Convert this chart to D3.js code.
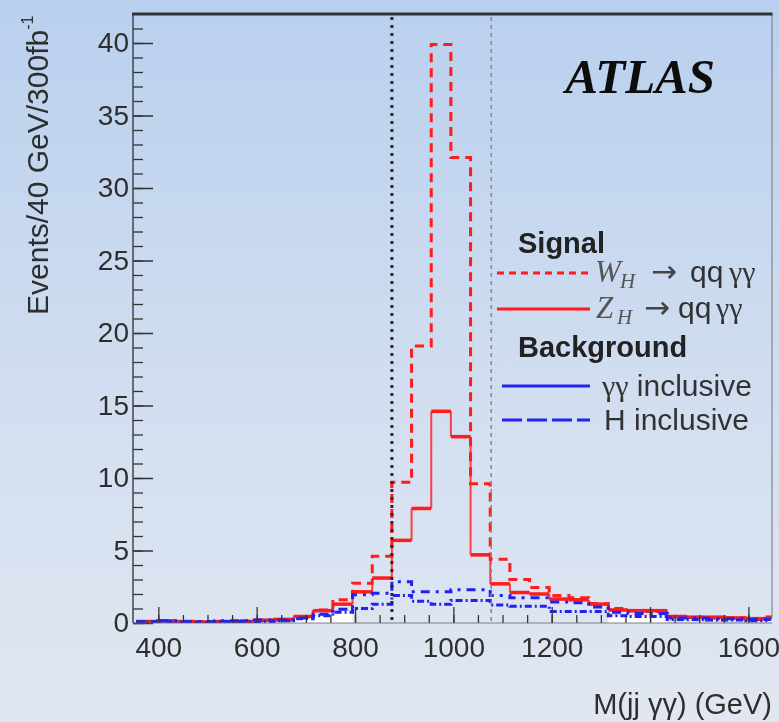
<!DOCTYPE html>
<html>
<head>
<meta charset="utf-8">
<script src="https://cdn.jsdelivr.net/npm/d3@7/dist/d3.min.js"></script>
<style>
  body { margin: 0; }
  svg { display: block; }
</style>
</head>
<body>
<svg id="chart" width="779" height="722"></svg>
<script>
// 40 GeV bins, lower edge of the first one
const binStart = 355;
const binWidth = 40;

// signal, Events / 40 GeV / 300 fb^-1
const wSignal = [0.05, 0.1, 0.1, 0.1, 0.1, 0.15, 0.15, 0.2, 0.45, 0.9, 1.6, 2.75, 4.6,
    9.7, 19.1, 39.9, 32.1, 9.6, 4.4, 3.0, 2.45, 1.9, 1.75, 1.35, 1.0, 0.85, 0.8,
    0.4, 0.4, 0.35, 0.35, 0.25, 0.35];
const zSignal = [0.1, 0.15, 0.1, 0.05, 0.1, 0.1, 0.2, 0.25, 0.45, 0.85, 1.3, 2.15, 3.1,
    5.7, 7.9, 14.6, 12.85, 4.7, 2.7, 2.1, 2.0, 1.65, 1.6, 1.3, 0.9, 0.85, 0.85,
    0.45, 0.4, 0.4, 0.35, 0.3, 0.4];

// backgrounds
const hInclusive = [0.1, 0.15, 0.1, 0.1, 0.15, 0.15, 0.2, 0.2, 0.35, 0.6, 0.95, 1.95, 2.05,
    2.85, 2.15, 2.15, 2.3, 2.3, 1.9, 1.75, 1.75, 1.45, 1.4, 1.1, 0.75, 0.65, 0.65,
    0.35, 0.35, 0.3, 0.3, 0.25, 0.3];
const aaInclusive = [0.05, 0.1, 0.05, 0.05, 0.1, 0.1, 0.1, 0.15, 0.3, 0.5, 0.75, 1.0, 1.3,
    1.9, 1.5, 1.3, 1.55, 1.55, 1.25, 1.15, 1.15, 0.8, 0.8, 0.8, 0.5, 0.45, 0.45,
    0.25, 0.25, 0.2, 0.2, 0.15, 0.25];
// white filled part under the backgrounds
const whiteFill = [0, 0, 0, 0, 0, 0, 0, 0, 0.4, 0.5, 0.8, 0, 0,
    0, 0, 0, 0, 0, 0, 0, 0, 0, 0, 0, 0.5, 0.5, 0.5,
    0, 0, 0, 0, 0, 0];

const xMajorTicks = [400, 600, 800, 1000, 1200, 1400, 1600];
const xMinorTicks = [400, 450, 500, 550, 600, 650, 700, 750, 800, 850, 900, 950, 1000, 1050,
    1100, 1150, 1200, 1250, 1300, 1350, 1400, 1450, 1500, 1550, 1600];
const yMajorTicks = [0, 5, 10, 15, 20, 25, 30, 35, 40];
const yMinorTicks = d3.range(0, 42, 1);

// mass window
const cutLow = 875;
const cutHigh = 1077;

const width = 779, height = 722;
const margin = { left: 133, top: 14, right: 7, bottom: 99 };

const svg = d3.select("#chart");

const defs = svg.append("defs");
const grad = defs.
append("linearGradient").
attr("id", "bg").
attr("x1", 0).attr("y1", 0).attr("x2", 0).attr("y2", 1);
grad.append("stop").attr("offset", "0%").attr("stop-color", "#b9d0ee");
grad.append("stop").attr("offset", "55%").attr("stop-color", "#d2def0");
grad.append("stop").attr("offset", "100%").attr("stop-color", "#e1e7f0");

defs.
append("clipPath").
attr("id", "plot-clip").
append("rect").
attr("x", margin.left).
attr("y", margin.top).
attr("width", width - margin.left - margin.right).
attr("height", height - margin.top - margin.bottom);

// the scanned original is a little soft
defs.
append("filter").
attr("id", "soft").
append("feGaussianBlur").
attr("stdDeviation", 0.45);

svg.
append("rect").
attr("width", width).
attr("height", height).
attr("fill", "url(#bg)");

const root = svg.append("g").attr("filter", "url(#soft)");

const x = d3.scaleLinear().domain([348.5, 1648]).range([margin.left, width - margin.right]);
const y = d3.scaleLinear().domain([0, 42]).range([height - margin.bottom, margin.top]);

const font = "'Liberation Sans', Arial, Helvetica, sans-serif";
const serif = "'Liberation Serif', 'Times New Roman', serif";

// bins as {lo, hi, v}
function bins(values) {
    return values.map((v, i) => {
        const lo = Math.max(binStart + i * binWidth, x.domain()[0]);
        const hi = Math.min(binStart + (i + 1) * binWidth, x.domain()[1]);
        return { lo: lo, hi: hi, v: v };
    });
}

function stepPoints(values) {
    const b = bins(values);
    const pts = b.map(d => [d.lo, d.v]);
    pts.push([b[b.length - 1].hi, b[b.length - 1].v]);
    return pts;
}

const stepLine = d3.
line().
x(d => x(d[0])).
y(d => y(d[1])).
curve(d3.curveStepAfter);

const plot = root.append("g").attr("clip-path", "url(#plot-clip)");

// white fill
plot.
append("g").
selectAll("rect").
data(bins(whiteFill).filter(d => d.v > 0)).
join("rect").
attr("x", d => x(d.lo)).
attr("width", d => x(d.hi) - x(d.lo)).
attr("y", d => y(d.v)).
attr("height", d => y(0) - y(d.v)).
attr("fill", "#ffffff");

// Z_H solid red: thick horizontals, thinner verticals
const zBins = bins(zSignal);
const zg = plot.append("g").attr("stroke", "#ff1a1a").attr("fill", "none");
zg.
selectAll("line.h").
data(zBins).
join("line").
attr("class", "h").
attr("x1", d => x(d.lo)).
attr("x2", d => x(d.hi)).
attr("y1", d => y(d.v)).
attr("y2", d => y(d.v)).
attr("stroke-width", 3.5);
zg.
selectAll("line.v").
data(zBins.slice(1).map((d, i) => ({ at: d.lo, a: zBins[i].v, b: d.v }))).
join("line").
attr("class", "v").
attr("x1", d => x(d.at)).
attr("x2", d => x(d.at)).
attr("y1", d => y(d.a)).
attr("y2", d => y(d.b)).
attr("stroke-width", 2).
attr("stroke-opacity", 0.8);

// W_H dashed red
plot.
append("path").
attr("d", stepLine(stepPoints(wSignal))).
attr("fill", "none").
attr("stroke", "#ff1a1a").
attr("stroke-width", 3).
attr("stroke-dasharray", "9,6");

// backgrounds
plot.
append("path").
attr("d", stepLine(stepPoints(hInclusive))).
attr("fill", "none").
attr("stroke", "#2222ee").
attr("stroke-width", 3).
attr("stroke-dasharray", "9,6,3,6");

plot.
append("path").
attr("d", stepLine(stepPoints(aaInclusive))).
attr("fill", "none").
attr("stroke", "#2222ee").
attr("stroke-width", 3).
attr("stroke-dasharray", "7,3,2,3");

// mass window lines
root.
append("line").
attr("x1", x(cutLow)).attr("x2", x(cutLow)).
attr("y1", y(42) + 3).attr("y2", y(0)).
attr("stroke", "#2a2a2a").
attr("stroke-width", 3).
attr("stroke-dasharray", "3,5");

root.
append("line").
attr("x1", x(cutHigh)).attr("x2", x(cutHigh)).
attr("y1", y(42) + 3).attr("y2", y(0)).
attr("stroke", "#888").
attr("stroke-width", 1.5).
attr("stroke-dasharray", "4,4");

// axes, ticks pointing into the frame
root.
append("g").
attr("transform", `translate(0,${y(0)})`).
call(d3.axisBottom(x).tickValues(xMinorTicks).tickSize(-8).tickFormat("")).
call(g => g.select(".domain").remove()).
call(g => g.selectAll("line").attr("stroke", "#333").attr("stroke-width", 1.3));

root.
append("g").
attr("transform", `translate(0,${y(0)})`).
call(d3.axisBottom(x).tickValues(xMajorTicks).tickSize(-16).tickPadding(14).tickFormat(d3.format("d"))).
call(g => g.select(".domain").remove()).
call(g => g.selectAll("line").attr("stroke", "#333").attr("stroke-width", 1.3)).
call(g => g.selectAll("text").
    attr("fill", "#2e2e2e").
    style("font-family", font).
    style("font-size", "28px"));

root.
append("g").
attr("transform", `translate(${margin.left},0)`).
call(d3.axisLeft(y).tickValues(yMinorTicks).tickSize(-10).tickFormat("")).
call(g => g.select(".domain").remove()).
call(g => g.selectAll("line").attr("stroke", "#333").attr("stroke-width", 1.3));

root.
append("g").
attr("transform", `translate(${margin.left},0)`).
call(d3.axisLeft(y).tickValues(yMajorTicks).tickSize(-20).tickPadding(4).tickFormat(d3.format("d"))).
call(g => g.select(".domain").remove()).
call(g => g.selectAll("line").attr("stroke", "#333").attr("stroke-width", 1.5)).
call(g => g.selectAll("text").
    attr("fill", "#2e2e2e").
    style("font-family", font).
    style("font-size", "28px"));

// frame
const x0 = x.range()[0], x1 = x.range()[1], y0 = y.range()[0], y1 = y.range()[1];
root.append("line").attr("x1", x0).attr("x2", x0).attr("y1", y1).attr("y2", y0).
attr("stroke", "#444").attr("stroke-width", 1.5);
root.append("line").attr("x1", x1).attr("x2", x1).attr("y1", y1).attr("y2", y0 - 6).
attr("stroke", "#777").attr("stroke-width", 1);
root.append("line").attr("x1", x0).attr("x2", x1).attr("y1", y0).attr("y2", y0).
attr("stroke", "#666").attr("stroke-width", 0.8);
root.append("line").attr("x1", x0 - 1).attr("x2", x1 + 0.5).attr("y1", y1).attr("y2", y1).
attr("stroke", "#333").attr("stroke-width", 3);

// axis titles
root.
append("text").
attr("x", x1).
attr("y", 714).
attr("text-anchor", "end").
attr("fill", "#2e2e2e").
style("font-family", font).
style("font-size", "29px").
text("M(jj γγ) (GeV)");

const yTitle = root.
append("text").
attr("transform", "translate(48,315) rotate(-90)").
attr("fill", "#2e2e2e").
style("font-family", font).
style("font-size", "30px");
yTitle.append("tspan").text("Events/40 GeV/300fb");
yTitle.append("tspan").attr("dy", -15).style("font-size", "16px").text("-1");

// ATLAS label
root.
append("text").
attr("x", 715).
attr("y", 93).
attr("text-anchor", "end").
attr("fill", "#111").
style("font-family", serif).
style("font-style", "italic").
style("font-weight", "bold").
style("font-size", "49px").
text("ATLAS");

// legend
const legend = root.append("g");

legend.append("text").attr("x", 518).attr("y", 253).
attr("fill", "#222").style("font-family", font).style("font-weight", "bold").
style("font-size", "29px").text("Signal");

legend.append("text").attr("x", 518).attr("y", 357).
attr("fill", "#222").style("font-family", font).style("font-weight", "bold").
style("font-size", "29px").text("Background");

// x of: symbol, subscript, arrow, "qq", γγ
const entries = [
    { y: 273, color: "#ff1a1a", dash: "7,5", sym: "W", at: [595, 620, 651, 690, 729] },
    { y: 309, color: "#ff1a1a", dash: null, sym: "Z", at: [596, 617, 644, 678, 716] }
];

entries.forEach(e => {
    legend.append("line").
    attr("x1", 497).attr("x2", 590).attr("y1", e.y).attr("y2", e.y).
    attr("stroke", e.color).attr("stroke-width", 3).
    attr("stroke-dasharray", e.dash);

    const base = e.y + 9;
    legend.append("text").attr("x", e.at[0]).attr("y", base).
    attr("fill", "#555").style("font-family", serif).style("font-style", "italic").
    style("font-size", "31px").text(e.sym);
    legend.append("text").attr("x", e.at[1]).attr("y", base + 6).
    attr("fill", "#555").style("font-family", serif).style("font-style", "italic").
    style("font-size", "21px").text("H");
    legend.append("text").attr("x", e.at[2]).attr("y", base).
    attr("fill", "#444").style("font-family", "'DejaVu Sans', sans-serif").
    style("font-size", "31px").text("→");
    legend.append("text").attr("x", e.at[3]).attr("y", base).
    attr("fill", "#333").style("font-family", font).
    style("font-size", "30px").text("qq");
    legend.append("text").attr("x", e.at[4]).attr("y", base).
    attr("fill", "#333").style("font-family", serif).
    style("font-size", "30px").text("γγ");
});

legend.append("line").
attr("x1", 502).attr("x2", 590).attr("y1", 386).attr("y2", 386).
attr("stroke", "#2222ee").attr("stroke-width", 3);
const aaText = legend.append("text").attr("x", 602).attr("y", 396).
attr("fill", "#333").style("font-size", "30px");
aaText.append("tspan").style("font-family", serif).text("γγ");
aaText.append("tspan").style("font-family", font).text(" inclusive");

legend.append("line").
attr("x1", 502).attr("x2", 590).attr("y1", 420).attr("y2", 420).
attr("stroke", "#2222ee").attr("stroke-width", 3).
attr("stroke-dasharray", "20,5");
legend.append("text").attr("x", 604).attr("y", 430).
attr("fill", "#333").style("font-family", font).style("font-size", "30px").
text("H inclusive");
</script>
</body>
</html>
